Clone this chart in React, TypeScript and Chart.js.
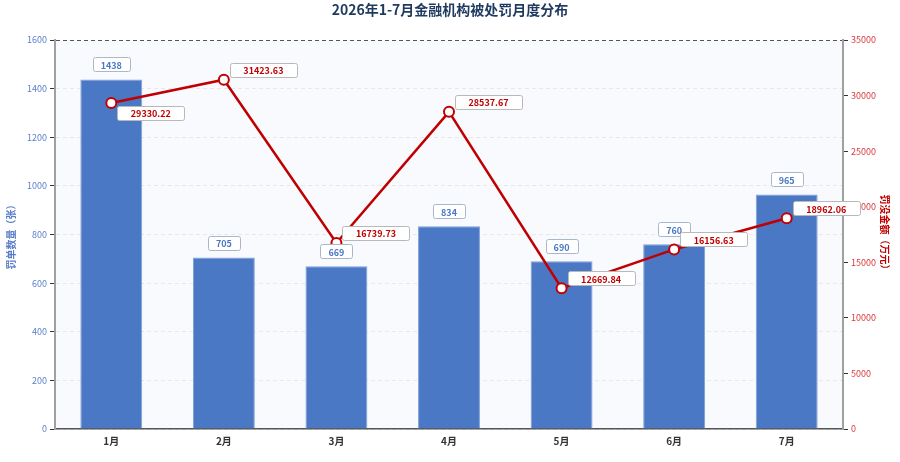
import { useEffect, useRef } from "react";
import { Chart, registerables, type ChartConfiguration, type Plugin } from "chart.js";

Chart.register(...registerables);

const MONTHS = ["1月", "2月", "3月", "4月", "5月", "6月", "7月"];
const PENALTY_COUNTS = [1438, 705, 669, 834, 690, 760, 965];
const PENALTY_AMOUNTS = [29330.22, 31423.63, 16739.73, 28537.67, 12669.84, 16156.63, 18962.06];
// which side of the point the amount label sits on
const AMOUNT_LABEL_SIDE = ["below", "above", "above", "above", "above", "above", "above"];

const TITLE = "2026年1-7月金融机构被处罚月度分布";
const FONT = "'Noto Sans CJK SC', 'Noto Sans', sans-serif";

const BAR_COLOR = "#4a78c4";
const LINE_COLOR = "#c00000";
const LEFT_TICK_COLOR = "#5b7fc7";
const RIGHT_TICK_COLOR = "#d63a3a";

function box(ctx: CanvasRenderingContext2D, x: number, y: number, w: number, h: number, border: string) {
  x = Math.round(x) + 0.5;
  y = Math.round(y) + 0.5;
  ctx.beginPath();
  ctx.roundRect(x, y, Math.round(w), Math.round(h), 2);
  ctx.fillStyle = "#ffffff";
  ctx.fill();
  ctx.lineWidth = 1;
  ctx.strokeStyle = border;
  ctx.stroke();
}

const labelPlugin: Plugin<"bar"> = {
  id: "valueLabels",
  afterDatasetsDraw(chart) {
    const ctx = chart.ctx;
    ctx.save();
    ctx.font = `bold 9px ${FONT}`;
    ctx.textAlign = "center";
    ctx.textBaseline = "middle";

    const bars = chart.getDatasetMeta(0).data;
    bars.forEach((bar, i) => {
      const text = String(PENALTY_COUNTS[i]);
      const w = ctx.measureText(text).width + 16;
      const h = 14;
      const bx = bar.x - w / 2;
      const by = bar.y - 8 - h;
      box(ctx, bx, by, w, h, "#a9b7cc");
      ctx.fillStyle = BAR_COLOR;
      ctx.fillText(text, bar.x, by + h / 2 + 1);
    });

    const points = chart.getDatasetMeta(1).data;
    points.forEach((pt, i) => {
      const text = PENALTY_AMOUNTS[i].toFixed(2);
      const w = ctx.measureText(text).width + 27;
      const h = 14;
      const bx = pt.x + 6;
      const by = AMOUNT_LABEL_SIDE[i] === "below" ? pt.y + 3 : pt.y - 3 - h;
      box(ctx, bx, by, w, h, "#b8b8b8");
      ctx.fillStyle = LINE_COLOR;
      ctx.fillText(text, bx + w / 2, by + h / 2 + 1);
    });
    ctx.restore();
  },
};

const chromePlugin: Plugin<"bar"> = {
  id: "chrome",
  beforeDraw(chart) {
    const { ctx, chartArea } = chart;
    ctx.save();
    ctx.fillStyle = "#f9fafd";
    ctx.fillRect(chartArea.left, chartArea.top, chartArea.right - chartArea.left, chartArea.bottom - chartArea.top);
    ctx.restore();
  },
  afterDraw(chart) {
    const { ctx } = chart;
    ctx.save();
    ctx.font = `bold 14px ${FONT}`;
    ctx.fillStyle = "#1f3a5f";
    ctx.textAlign = "center";
    ctx.textBaseline = "middle";
    ctx.fillText(TITLE, chart.width / 2, 10);
    ctx.restore();
  },
};

export default function App() {
  const canvasRef = useRef<HTMLCanvasElement>(null);

  useEffect(() => {
    document.body.style.margin = "0";
    if (!canvasRef.current) return;

    const config: ChartConfiguration<"bar"> = {
      type: "bar",
      data: {
        labels: MONTHS,
        datasets: [
          {
            label: "罚单数量",
            data: PENALTY_COUNTS,
            backgroundColor: BAR_COLOR,
            borderColor: "#7d9fd8",
            borderWidth: 1,
            barPercentage: 0.55,
            categoryPercentage: 1,
            yAxisID: "y",
            order: 1,
          },
          {
            type: "line" as any,
            label: "罚没金额",
            data: PENALTY_AMOUNTS,
            borderColor: LINE_COLOR,
            borderWidth: 2.5,
            pointRadius: 5,
            pointBorderWidth: 2,
            pointBackgroundColor: "#ffffff",
            pointBorderColor: LINE_COLOR,
            tension: 0,
            yAxisID: "y2",
            order: 0,
          } as any,
        ],
      },
      options: {
        responsive: false,
        animation: false,
        layout: { padding: { top: 40, left: 0, right: 0, bottom: 0 } },
        plugins: {
          legend: { display: false },
          title: { display: false },
          tooltip: { enabled: false },
        },
        scales: {
          x: {
            grid: { display: false, drawTicks: false },
            border: { color: "#555", width: 1.5 },
            ticks: { color: "#333", font: { family: FONT, size: 10, weight: "bold" }, padding: 6 },
            afterFit: (s) => {
              s.height = 33;
            },
          },
          y: {
            position: "left",
            min: 0,
            max: 1600,
            ticks: {
              stepSize: 200,
              color: LEFT_TICK_COLOR,
              font: { family: FONT, size: 9 },
              padding: 3,
              callback: (v) => String(v),
            },
            grid: {
              color: (c) => (c.tick && c.tick.value === 1600 ? "#555" : "#e6e8ec"),
              lineWidth: 1,
              tickLength: 5,
              tickColor: "#333",
            },
            border: { color: "#a0a0a0", width: 2, dash: [4, 3] },
            title: {
              display: true,
              text: "罚单数量（张）",
              color: LEFT_TICK_COLOR,
              font: { family: FONT, size: 10, weight: "bold" },
              padding: { top: 5, bottom: 0 },
            },
            afterFit: (s) => {
              s.width = 55;
            },
          },
          y2: {
            position: "right",
            min: 0,
            max: 35000,
            ticks: {
              stepSize: 5000,
              color: RIGHT_TICK_COLOR,
              font: { family: FONT, size: 9 },
              padding: 3,
              callback: (v) => String(v),
            },
            grid: { drawOnChartArea: false, tickLength: 5, tickColor: "#333" },
            border: { color: "#a0a0a0", width: 2 },
            title: {
              display: true,
              text: "罚没金额（万元）",
              color: LINE_COLOR,
              font: { family: FONT, size: 10, weight: "bold" },
              padding: { top: 9, bottom: 0 },
            },
            afterFit: (s) => {
              s.width = 57;
            },
          },
        },
      },
      plugins: [chromePlugin, labelPlugin],
    };

    const chart = new Chart(canvasRef.current, config);
    return () => chart.destroy();
  }, []);

  return (
    <div style={{ width: 900, height: 462, background: "#ffffff" }}>
      <canvas ref={canvasRef} width={900} height={462} style={{ display: "block" }} />
    </div>
  );
}
